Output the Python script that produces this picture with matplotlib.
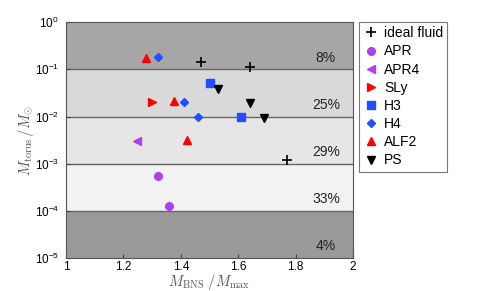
import numpy as np
import matplotlib
matplotlib.use("Agg")
import matplotlib.pyplot as plt

plt.rcParams['mathtext.fontset'] = 'cm'
plt.rcParams['font.family'] = ['Liberation Sans', 'DejaVu Sans']

# data
ideal_x = [1.47, 1.64, 1.77]
ideal_y = [0.142, 0.111, 0.0012]
apr_x = [1.32, 1.36]
apr_y = [5.5e-4, 1.3e-4]
apr4_x = [1.246]
apr4_y = [0.003]
sly_x = [1.30]
sly_y = [0.02]
h3_x = [1.50, 1.61]
h3_y = [0.051, 0.0098]
h4_x = [1.32, 1.41, 1.46]
h4_y = [0.18, 0.02, 0.0098]
alf2_x = [1.28, 1.377, 1.42]
alf2_y = [0.17, 0.021, 0.0032]
ps_x = [1.53, 1.64, 1.69]
ps_y = [0.038, 0.019, 0.0093]

band_edges = [1, 0.1, 0.01, 1e-3, 1e-4, 1e-5]
band_colors = ['#a6a6a6', '#d9d9d9', '#e6e6e6', '#f2f2f2', '#999999']
band_labels = ['8%', '25%', '29%', '33%', '4%']

fig = plt.figure(figsize=(4.96, 2.91), dpi=100)
ax = fig.add_axes([0.133, 0.113, 0.579, 0.811])

for i in range(5):
    ax.axhspan(band_edges[i + 1], band_edges[i], color=band_colors[i], zorder=0, lw=0)
    if i > 0:
        ax.axhline(band_edges[i], color='#666666', lw=1, zorder=1)
    ypos = band_edges[i] * 10 ** -0.75
    ax.text(1.905, ypos, band_labels[i], ha='center', va='center', fontsize=10, color='#222222')

ms = 5.5
ax.plot(ideal_x, ideal_y, '+', color='k', ms=7, mew=1.2, ls='none', label='ideal fluid')
ax.plot(apr_x, apr_y, 'o', color='#b03ff0', ms=ms, ls='none', label='APR')
ax.plot(apr4_x, apr4_y, '<', color='#b03ff0', ms=ms, ls='none', label='APR4')
ax.plot(sly_x, sly_y, '>', color='#ff0000', ms=ms, ls='none', label='SLy')
ax.plot(h3_x, h3_y, 's', color='#1f4fff', ms=ms, ls='none', label='H3')
ax.plot(h4_x, h4_y, 'D', color='#1f4fff', ms=ms - 1, ls='none', label='H4')
ax.plot(alf2_x, alf2_y, '^', color='#ff0000', ms=ms, ls='none', label='ALF2')
ax.plot(ps_x, ps_y, 'v', color='k', ms=ms, ls='none', label='PS')

ax.set_xlim(1, 2)
ax.set_ylim(1e-5, 1)
ax.set_yscale('log')
ax.set_xticks([1, 1.2, 1.4, 1.6, 1.8, 2])
ax.set_xticklabels(['1', '1.2', '1.4', '1.6', '1.8', '2'])
ax.set_yticks([1e-5, 1e-4, 1e-3, 1e-2, 1e-1, 1])
ax.minorticks_off()
ax.tick_params(direction='in', length=3, labelsize=8.5, color='#444444')
ax.tick_params(axis='y', pad=5)
ax.tick_params(axis='x', pad=2)
for s in ax.spines.values():
    s.set_color('#555555')
    s.set_zorder(5)

ax.set_xlabel(r'$M_{\rm BNS}\ /M_{\rm max}$', fontsize=10.5, color='#555555', labelpad=-1)
ax.set_ylabel(r'$M_{\rm torus}\,/M_{\odot}$', fontsize=10.5, color='#555555', labelpad=-1)

leg = ax.legend(loc='upper left', bbox_to_anchor=(1.02, 1.0), fontsize=10,
                frameon=True, fancybox=False, edgecolor='#555555',
                handletextpad=0.3, handlelength=1.2, borderpad=0.3,
                labelspacing=0.3, borderaxespad=0)
leg.get_frame().set_linewidth(0.8)

fig.savefig('out.png', dpi=100)
